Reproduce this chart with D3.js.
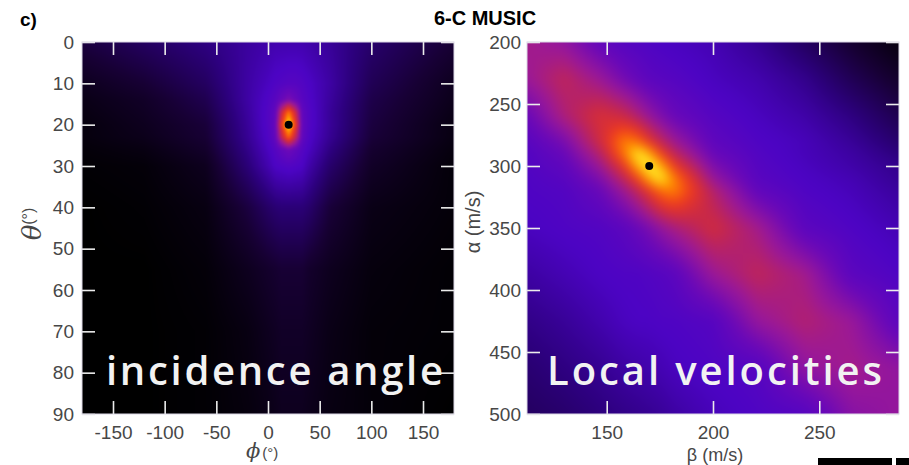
<!DOCTYPE html>
<html><head><meta charset="utf-8">
<script src="https://cdn.jsdelivr.net/npm/d3@7"></script>
<style>
html,body{margin:0;padding:0;background:#fff;}
svg{display:block;}
</style></head><body>
<svg id="chart" width="909" height="465"></svg>
<script>
// ---------------- data ----------------
const panelTitle = "6-C MUSIC";
const panelLetter = "c)";

// left panel: incidence angle spectrum (rows = theta, cols = phi)
const phiGrid   = [-180, -120, -60, -20, 0, 7, 13, 20, 27, 33, 40, 60, 100, 180];
const thetaGrid = [0, 10, 14, 17, 20, 23, 26, 30, 40, 55, 70, 90];
const angleSpectrum = [
  [0.14,0.20,0.26,0.31,0.33,0.34,0.34,0.34,0.34,0.34,0.33,0.30,0.22,0.12],
  [0.07,0.12,0.20,0.32,0.37,0.39,0.40,0.41,0.41,0.40,0.38,0.32,0.18,0.07],
  [0.05,0.09,0.17,0.32,0.39,0.42,0.47,0.52,0.47,0.42,0.39,0.31,0.16,0.06],
  [0.04,0.08,0.15,0.31,0.40,0.45,0.68,0.86,0.68,0.45,0.40,0.30,0.15,0.05],
  [0.03,0.07,0.13,0.30,0.40,0.46,0.76,1.00,0.76,0.46,0.40,0.30,0.14,0.04],
  [0.03,0.06,0.12,0.29,0.39,0.45,0.66,0.84,0.66,0.45,0.39,0.29,0.13,0.04],
  [0.02,0.04,0.10,0.27,0.37,0.41,0.45,0.49,0.45,0.41,0.37,0.26,0.11,0.03],
  [0.01,0.02,0.07,0.24,0.34,0.38,0.39,0.40,0.39,0.38,0.33,0.22,0.09,0.02],
  [0.00,0.01,0.04,0.14,0.21,0.23,0.24,0.24,0.24,0.24,0.22,0.13,0.05,0.02],
  [0.00,0.00,0.02,0.07,0.10,0.11,0.12,0.12,0.12,0.12,0.10,0.07,0.03,0.01],
  [0.00,0.00,0.01,0.04,0.07,0.08,0.09,0.09,0.09,0.09,0.08,0.05,0.02,0.01],
  [0.00,0.00,0.01,0.03,0.05,0.06,0.07,0.07,0.07,0.07,0.06,0.04,0.02,0.00]
];
const anglePeak = [20, 20];           // [phi, theta]

// right panel: local velocity spectrum (rows = alpha, cols = beta)
const betaGrid  = [112.5, 130, 147, 158, 164.5, 170, 175.5, 182, 200, 221, 243, 265, 287.5];
const alphaGrid = [200, 230, 260, 280, 290, 300, 310, 320, 350, 387, 425, 462, 500];
const velocitySpectrum = [
  [0.60,0.56,0.45,0.41,0.40,0.39,0.38,0.37,0.35,0.29,0.20,0.11,0.03],
  [0.58,0.66,0.58,0.50,0.46,0.43,0.42,0.41,0.37,0.34,0.28,0.18,0.10],
  [0.47,0.62,0.72,0.69,0.63,0.57,0.52,0.47,0.41,0.37,0.33,0.26,0.17],
  [0.42,0.51,0.70,0.88,0.85,0.74,0.66,0.58,0.44,0.39,0.36,0.30,0.22],
  [0.40,0.47,0.64,0.86,1.00,0.93,0.78,0.66,0.47,0.40,0.36,0.32,0.25],
  [0.40,0.44,0.58,0.75,0.93,1.00,0.93,0.76,0.52,0.41,0.37,0.33,0.28],
  [0.39,0.42,0.52,0.66,0.78,0.93,1.00,0.87,0.57,0.42,0.38,0.35,0.29],
  [0.39,0.40,0.47,0.58,0.66,0.75,0.85,0.88,0.64,0.45,0.39,0.36,0.31],
  [0.37,0.39,0.40,0.43,0.47,0.51,0.56,0.61,0.70,0.60,0.43,0.39,0.35],
  [0.32,0.35,0.38,0.39,0.39,0.40,0.41,0.43,0.58,0.66,0.60,0.43,0.39],
  [0.27,0.30,0.34,0.37,0.38,0.38,0.39,0.39,0.41,0.57,0.63,0.58,0.43],
  [0.23,0.26,0.29,0.32,0.33,0.34,0.35,0.37,0.39,0.41,0.56,0.60,0.56],
  [0.20,0.22,0.25,0.27,0.28,0.29,0.30,0.32,0.36,0.39,0.41,0.54,0.57]
];
const velocityPeak = [170, 300];      // [beta, alpha]

// ticks
const phiTicks   = [-150, -100, -50, 0, 50, 100, 150];
const thetaTicks = [0, 10, 20, 30, 40, 50, 60, 70, 80, 90];
const betaTicks  = [150, 200, 250];
const alphaTicks = [200, 250, 300, 350, 400, 450, 500];

// colour map
const colorStops = [0, 0.12, 0.25, 0.38, 0.48, 0.58, 0.68, 0.78, 0.88, 0.95, 1];
const colorRamp  = ["#000000","#170034","#2c007c","#4c04c4","#6a08b8","#9a1898",
                    "#c82848","#f03a1c","#ff8400","#ffd000","#ffff70"];

const leftOverlay = "incidence angle";
const rightOverlay = "Local velocities";

// ---------------- drawing ----------------
const svg = d3.select("#chart");
const color = d3.scaleLinear().domain(colorStops).range(colorRamp).clamp(true);
const lut = d3.range(1025).map(k => d3.rgb(color(k / 1024)));

function sample(xs, ys, vals, xv, yv) {
  let i = Math.min(Math.max(d3.bisectRight(xs, xv) - 1, 0), xs.length - 2);
  let j = Math.min(Math.max(d3.bisectRight(ys, yv) - 1, 0), ys.length - 2);
  let u = Math.min(Math.max((xv - xs[i]) / (xs[i + 1] - xs[i]), 0), 1);
  let t = Math.min(Math.max((yv - ys[j]) / (ys[j + 1] - ys[j]), 0), 1);
  const a = vals[j][i] * (1 - u) + vals[j][i + 1] * u;
  const b = vals[j + 1][i] * (1 - u) + vals[j + 1][i + 1] * u;
  return a * (1 - t) + b * t;
}

function heatmap(x, y, xs, ys, vals, blur) {
  const [x0, x1] = x.range(), [y0, y1] = y.range();
  const w = Math.round(x1 - x0), h = Math.round(y1 - y0);
  const pad = Math.ceil(blur * 3) + 1;
  const W = w + 2 * pad, H = h + 2 * pad;
  const src = document.createElement("canvas");
  src.width = W; src.height = H;
  const sctx = src.getContext("2d");
  const img = sctx.createImageData(W, H);
  for (let py = 0; py < H; py++) {
    const yv = y.invert(y0 + py - pad + 0.5);
    for (let px = 0; px < W; px++) {
      const xv = x.invert(x0 + px - pad + 0.5);
      const v = sample(xs, ys, vals, xv, yv);
      const c = lut[Math.round(Math.min(Math.max(v, 0), 1) * 1024)];
      const k = (py * W + px) * 4;
      img.data[k] = c.r; img.data[k + 1] = c.g; img.data[k + 2] = c.b; img.data[k + 3] = 255;
    }
  }
  sctx.putImageData(img, 0, 0);
  const dst = document.createElement("canvas");
  dst.width = w; dst.height = h;
  const dctx = dst.getContext("2d");
  dctx.filter = `blur(${blur}px)`;
  dctx.drawImage(src, -pad, -pad);
  svg.append("image").attr("x", x0).attr("y", y0).attr("width", w).attr("height", h)
     .attr("preserveAspectRatio", "none").attr("href", dst.toDataURL());
}

const tickLen = 13;
const sans = "'Liberation Sans', Arial, sans-serif";
const serif = "'DejaVu Serif', 'Liberation Serif', serif";
function frame(x, y, xt, yt, xPad, yPad) {
  const [x0, x1] = x.range(), [y0, y1] = y.range();
  const fmt = d => String(d);
  const axes = [
    d3.axisBottom(x).tickValues(xt).tickSize(-tickLen).tickPadding(xPad).tickFormat(fmt),
    d3.axisTop(x).tickValues(xt).tickSize(-tickLen).tickFormat(""),
    d3.axisLeft(y).tickValues(yt).tickSize(-tickLen).tickPadding(yPad).tickFormat(fmt),
    d3.axisRight(y).tickValues(yt).tickSize(-tickLen).tickFormat("")
  ];
  const trans = [[0, y1], [0, y0], [x0, 0], [x1, 0]];
  axes.forEach((ax, k) => {
    const g = svg.append("g").attr("transform", `translate(${trans[k][0]},${trans[k][1]})`).call(ax);
    g.select(".domain").remove();
    g.selectAll(".tick line").attr("stroke", "#ececec").attr("stroke-width", 1.6);
    g.selectAll(".tick text").attr("fill", "#474747")
      .style("font-family", sans).style("font-size", "19px");
  });
  svg.append("rect").attr("x", x0).attr("y", y0).attr("width", x1 - x0).attr("height", y1 - y0)
     .attr("fill", "none").attr("stroke", "#dcd8e6").attr("stroke-width", 1);
}

// left panel
const xPhi = d3.scaleLinear().domain([-180, 180]).range([82, 454]);
const yTheta = d3.scaleLinear().domain([0, 90]).range([42, 414]);
heatmap(xPhi, yTheta, phiGrid, thetaGrid, angleSpectrum, 1.5);
frame(xPhi, yTheta, phiTicks, thetaTicks, 12, 8);
svg.append("circle").attr("cx", xPhi(anglePeak[0])).attr("cy", yTheta(anglePeak[1])).attr("r", 4).attr("fill", "#000");

// right panel
const xBeta = d3.scaleLinear().domain([112.5, 287.5]).range([527, 899]);
const yAlpha = d3.scaleLinear().domain([200, 500]).range([42, 414]);
heatmap(xBeta, yAlpha, betaGrid, alphaGrid, velocitySpectrum, 6);
frame(xBeta, yAlpha, betaTicks, alphaTicks, 12, 6);
svg.append("circle").attr("cx", xBeta(velocityPeak[0])).attr("cy", yAlpha(velocityPeak[1])).attr("r", 4).attr("fill", "#000");

// titles
svg.append("text").attr("x", 20).attr("y", 26).text(panelLetter)
  .style("font-family", sans).style("font-weight", "bold").style("font-size", "19px");
svg.append("text").attr("x", 485).attr("y", 25).attr("text-anchor", "middle").text(panelTitle)
  .style("font-family", sans).style("font-weight", "bold").style("font-size", "20px");

// axis labels
const phiLab = svg.append("text").attr("x", 246).attr("y", 458).attr("fill", "#474747");
phiLab.append("tspan").text("\u03D5").style("font-family", serif).style("font-style", "italic").style("font-size", "21px");
phiLab.append("tspan").text("(°)").attr("dx", 2).style("font-family", sans).style("font-size", "15px");

const thLab = svg.append("text").attr("transform", "translate(41,224) rotate(-90)").attr("text-anchor", "middle").attr("fill", "#474747");
thLab.append("tspan").text("\u03B8").style("font-family", serif).style("font-style", "italic").style("font-size", "26px");
thLab.append("tspan").text("(°)").attr("dy", -7).style("font-family", sans).style("font-size", "16px");

svg.append("text").attr("x", 715).attr("y", 461).attr("text-anchor", "middle").attr("fill", "#474747")
  .text("\u03B2 (m/s)").style("font-family", sans).style("font-size", "18px");
svg.append("text").attr("transform", "translate(480,222) rotate(-90)").attr("text-anchor", "middle").attr("fill", "#474747")
  .text("\u03B1 (m/s)").style("font-family", sans).style("font-size", "20px");

// overlay labels
svg.append("text").attr("x", 106).attr("y", 385).text(leftOverlay)
  .attr("textLength", 337).attr("lengthAdjust", "spacing").attr("fill", "#f2f2f2")
  .style("font-family", "'Open Sans', sans-serif").style("font-weight", 600).style("font-size", "40px");
svg.append("text").attr("x", 547).attr("y", 385).text(rightOverlay)
  .attr("textLength", 335).attr("lengthAdjust", "spacing").attr("fill", "#f2f2f2")
  .style("font-family", "'Open Sans', sans-serif").style("font-weight", 600).style("font-size", "40px");

// cut-off element of the next figure at the bottom edge
svg.append("rect").attr("x", 818).attr("y", 458).attr("width", 74).attr("height", 7).attr("fill", "#000");
svg.append("rect").attr("x", 896).attr("y", 458).attr("width", 13).attr("height", 7).attr("fill", "#000");
</script>
</body></html>
